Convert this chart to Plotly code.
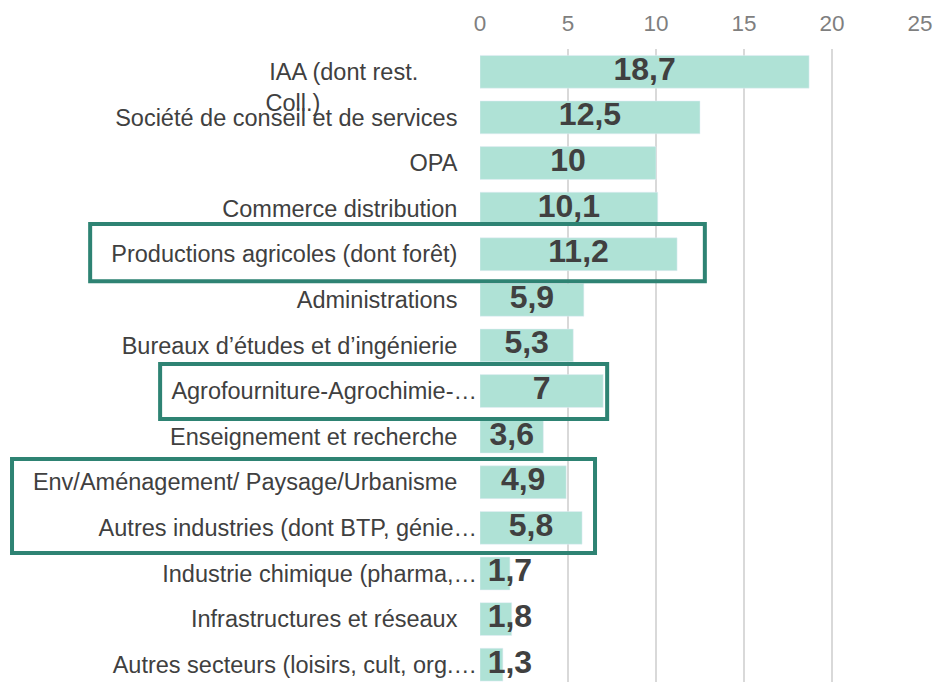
import plotly.graph_objects as go

NB = "\u00a0"

# categories (top to bottom) and values in %
categories = [
    "IAA (dont rest. Coll.)",
    "Société de conseil et de services",
    "OPA",
    "Commerce distribution",
    "Productions agricoles (dont forêt)",
    "Administrations",
    "Bureaux d’études et d’ingénierie",
    "Agrofourniture-Agrochimie-…",
    "Enseignement et recherche",
    "Env/Aménagement/ Paysage/Urbanisme",
    "Autres industries (dont BTP, génie…",
    "Industrie chimique (pharma,…",
    "Infrastructures et réseaux",
    "Autres secteurs (loisirs, cult, org.…",
]
values = [18.7, 12.5, 10, 10.1, 11.2, 5.9, 5.3, 7, 3.6, 4.9, 5.8, 1.7, 1.8, 1.3]
x_ticks = [0, 5, 10, 15, 20, 25]

BAR_COLOR = "#AFE2D6"
BOX_COLOR = "#2E8373"
TEXT_COLOR = "#404040"
FONT = "Liberation Sans, Arial, sans-serif"

# truncated labels run a bit further right than the others
truncated = {7, 10, 11, 13}
tick_text = []
for i, c in enumerate(categories):
    if i == 0:
        # wrapped label, first line on the bar, left aligned lines
        tick_text.append(NB + "<br>IAA (dont rest." + NB * 9 + "<br>Coll.)" + NB * 24)
    elif i in truncated:
        tick_text.append(c)
    else:
        tick_text.append(c + NB * 3)

labels = [("%g" % v).replace(".", ",") for v in values]
rows = list(range(len(categories)))
# value labels sit mid-bar, kept clear of the axis for the short bars
label_x = [max(v / 2, 1.7) for v in values]

fig = go.Figure()
fig.add_trace(go.Bar(
    x=values, y=rows, orientation="h",
    marker_color=BAR_COLOR, hoverinfo="skip",
))
fig.add_trace(go.Scatter(
    x=label_x, y=rows, mode="text", text=labels,
    textposition="middle center", cliponaxis=False,
    textfont=dict(family=FONT, size=32, color=TEXT_COLOR, weight="bold"),
    hoverinfo="skip",
))

# the page body adds an 8px offset, so the figure is 8px smaller
fig.update_layout(
    width=936, height=674,
    margin=dict(l=472, r=24, t=41, b=0),
    plot_bgcolor="white", paper_bgcolor="white",
    bargap=0.28,
    showlegend=False,
    font=dict(family=FONT, color=TEXT_COLOR),
)
fig.update_xaxes(
    side="top", range=[0, 25], tickvals=x_ticks,
    showgrid=True, gridcolor="#D9D9D9", gridwidth=1.5,
    zeroline=False, showline=False, automargin=False,
    ticklabelstandoff=13,
    tickfont=dict(size=22.5, color="#7F7F7F"),
)
fig.update_yaxes(
    range=[13.38, -0.5],
    tickvals=rows, ticktext=tick_text,
    showgrid=False, zeroline=False, showline=False, automargin=False,
    ticks="", ticklabelstandoff=2,
    tickfont=dict(size=23.5, color=TEXT_COLOR),
)

# highlight boxes (paper coordinates)
boxes = [(-0.886, 0.633, 0.511, 0.7235),
         (-0.727, 0.4155, 0.289, 0.5024),
         (-1.0636, 0.2038, 0.2614, 0.3523)]
for x0, y0, x1, y1 in boxes:
    fig.add_shape(type="rect", xref="paper", yref="paper",
                  x0=x0, y0=y0, x1=x1, y1=y1,
                  line=dict(color=BOX_COLOR, width=4), layer="above")

fig.write_html("out.html")
